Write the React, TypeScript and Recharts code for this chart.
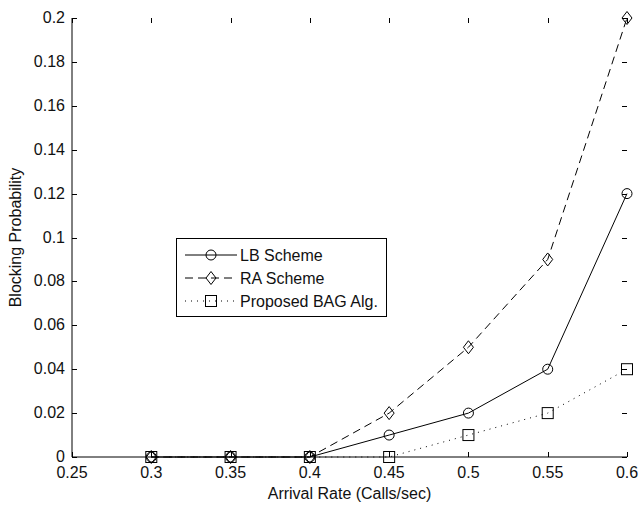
import { LineChart, Line, XAxis, YAxis, Legend } from 'recharts';

const arrivalRate = [0.3, 0.35, 0.4, 0.45, 0.5, 0.55, 0.6];
const lbScheme = [0, 0, 0, 0.01, 0.02, 0.04, 0.12];
const raScheme = [0, 0, 0, 0.02, 0.05, 0.09, 0.2];
const bagAlg = [0, 0, 0, 0, 0.01, 0.02, 0.04];

const xTicks = [0.25, 0.3, 0.35, 0.4, 0.45, 0.5, 0.55, 0.6];
const yTicks = [0, 0.02, 0.04, 0.06, 0.08, 0.1, 0.12, 0.14, 0.16, 0.18, 0.2];

const data = arrivalRate.map((rate, i) => ({
  rate,
  lb: lbScheme[i],
  ra: raScheme[i],
  bag: bagAlg[i],
}));

// plot box edges (pixels), used for the inward MATLAB-style ticks
const LEFT = 72;
const RIGHT = 627;
const TOP = 18;
const BOTTOM = 457;
const FONT = '"Liberation Sans", Arial, Helvetica, sans-serif';

const fmt = (v: number) => String(+v.toFixed(2));
const crisp = (v: number) => Math.round(v) + 0.5;

type Shape = 'circle' | 'diamond' | 'square';

const series: { key: string; name: string; dash?: string; shape: Shape }[] = [
  { key: 'lb', name: 'LB Scheme', shape: 'circle' },
  { key: 'ra', name: 'RA Scheme', dash: '8 5', shape: 'diamond' },
  { key: 'bag', name: 'Proposed BAG Alg.', dash: '1 5', shape: 'square' },
];

function Marker({ cx, cy, shape }: { cx: number; cy: number; shape: Shape }) {
  if (shape === 'circle') {
    return <circle cx={cx} cy={cy} r={5} fill="none" stroke="#000" strokeWidth={1} />;
  }
  if (shape === 'diamond') {
    const pts = `${cx},${cy - 6.5} ${cx + 5},${cy} ${cx},${cy + 6.5} ${cx - 5},${cy}`;
    return <polygon points={pts} fill="none" stroke="#000" strokeWidth={1} />;
  }
  return <rect x={cx - 5.5} y={cy - 5.5} width={11} height={11} fill="none" stroke="#000" strokeWidth={1} />;
}

function XTick(props: any) {
  const { x, payload } = props;
  const cx = crisp(x);
  return (
    <g>
      <line x1={cx} x2={cx} y1={BOTTOM} y2={BOTTOM - 5} stroke="#000" />
      <line x1={cx} x2={cx} y1={TOP} y2={TOP + 5} stroke="#000" />
      <text x={x} y={BOTTOM + 21} textAnchor="middle" fontSize={16} fontFamily={FONT} fill="#111">
        {fmt(payload.value)}
      </text>
    </g>
  );
}

function YTick(props: any) {
  const { y, payload } = props;
  const cy = crisp(y);
  return (
    <g>
      <line x1={LEFT} x2={LEFT + 5} y1={cy} y2={cy} stroke="#000" />
      <line x1={RIGHT} x2={RIGHT - 5} y1={cy} y2={cy} stroke="#000" />
      <text x={LEFT - 7} y={y + 5} textAnchor="end" fontSize={16} fontFamily={FONT} fill="#111">
        {fmt(payload.value)}
      </text>
    </g>
  );
}

function LegendBox() {
  return (
    <svg width={212} height={80} style={{ display: 'block' }}>
      <rect x={0.5} y={0.5} width={210} height={78} fill="#fff" stroke="#000" />
      {series.map((s, i) => {
        const y = 17 + i * 23;
        return (
          <g key={s.key}>
            <line x1={9} x2={61} y1={y} y2={y} stroke="#000" strokeDasharray={s.dash} />
            <Marker cx={35} cy={y} shape={s.shape} />
            <text x={64} y={y + 6} fontSize={16} fontFamily={FONT} fill="#111">
              {s.name}
            </text>
          </g>
        );
      })}
    </svg>
  );
}

export default function App() {
  return (
    <div style={{ position: 'absolute', left: 0, top: 0, width: 642, height: 506, background: '#fff' }}>
      <LineChart width={642} height={506} data={data} margin={{ top: TOP, right: 642 - RIGHT, left: 0, bottom: 0 }}>
        <XAxis
          dataKey="rate"
          type="number"
          domain={[0.25, 0.6]}
          ticks={xTicks}
          height={506 - BOTTOM}
          tickLine={false}
          tickSize={0}
          tick={<XTick />}
          axisLine={{ stroke: '#000' }}
          label={{
            content: () => (
              <text x={(LEFT + RIGHT) / 2} y={499} textAnchor="middle" fontSize={16} fontFamily={FONT} fill="#111">
                Arrival Rate (Calls/sec)
              </text>
            ),
          }}
        />
        <XAxis
          xAxisId="top"
          orientation="top"
          type="number"
          domain={[0.25, 0.6]}
          height={0}
          tick={false}
          tickLine={false}
          axisLine={{ stroke: '#000' }}
        />
        <YAxis
          type="number"
          domain={[0, 0.2]}
          ticks={yTicks}
          width={LEFT}
          tickLine={false}
          tickSize={0}
          tick={<YTick />}
          axisLine={{ stroke: '#000' }}
          label={{
            content: () => (
              <text
                x={15}
                y={(TOP + BOTTOM) / 2}
                transform={`rotate(-90 15 ${(TOP + BOTTOM) / 2})`}
                textAnchor="middle"
                dominantBaseline="central"
                fontSize={16}
                fontFamily={FONT}
                fill="#111"
              >
                Blocking Probability
              </text>
            ),
          }}
        />
        <YAxis
          yAxisId="right"
          orientation="right"
          type="number"
          domain={[0, 0.2]}
          width={0}
          tick={false}
          tickLine={false}
          axisLine={{ stroke: '#000' }}
        />
        {series.map((s) => (
          <Line
            key={s.key}
            dataKey={s.key}
            name={s.name}
            type="linear"
            stroke="#000"
            strokeWidth={1}
            strokeDasharray={s.dash}
            isAnimationActive={false}
            dot={(p: any) => <Marker key={`${s.key}-${p.index}`} cx={p.cx} cy={p.cy} shape={s.shape} />}
            activeDot={false}
          />
        ))}
        <Legend
          layout="horizontal"
          verticalAlign="middle"
          align="center"
          wrapperStyle={{ left: 176, top: 238, width: 212, height: 80 }}
          content={() => <LegendBox />}
        />
      </LineChart>
    </div>
  );
}
